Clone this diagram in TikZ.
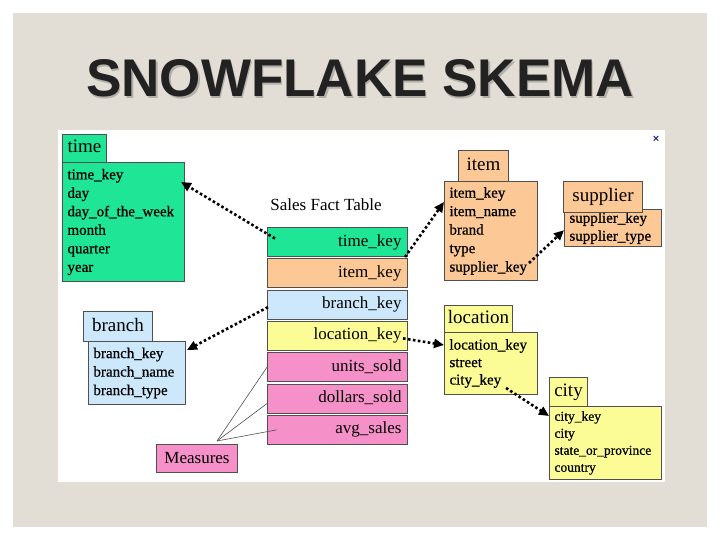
\documentclass[tikz,border=0pt]{standalone}
\usepackage{fontspec}
\setmainfont{Liberation Serif}
\newfontfamily\titlefont{Liberation Sans}
\newfontfamily\fieldfont{Liberation Serif}[FakeBold=0.7]
\usepackage{xcolor}
\usetikzlibrary{arrows.meta}

\definecolor{slidebg}{RGB}{226,221,213}
\definecolor{titleink}{RGB}{34,34,34}
\definecolor{titleshade}{RGB}{178,174,168}
\definecolor{tblline}{RGB}{80,80,80}
\definecolor{timegreen}{RGB}{30,230,150}
\definecolor{itempeach}{RGB}{252,200,150}
\definecolor{branchblue}{RGB}{204,232,250}
\definecolor{locyellow}{RGB}{252,252,150}
\definecolor{measpink}{RGB}{245,145,200}
\definecolor{closeblue}{RGB}{30,40,140}

\begin{document}
\begin{tikzpicture}[x=1pt,y=-1pt,
  tblhead/.style={draw=tblline,line width=1pt,anchor=north west,inner sep=0pt,
    font=\fontsize{19}{22}\selectfont,text height=13pt,text depth=4pt},
  tblbody/.style={draw=tblline,line width=1pt,anchor=north west,inner xsep=5pt,
    inner ysep=0pt,align=left,font=\fieldfont\fontsize{15}{18.5}\selectfont},
  factrow/.style={draw=tblline,line width=1pt,anchor=north west,minimum height=29pt,
    text width=128pt,align=right,inner xsep=6pt,inner ysep=0pt,
    font=\fontsize{17}{20}\selectfont,text height=12pt,text depth=4pt},
  fkarrow/.style={line width=2.6pt,dash pattern=on 2.6pt off 2.4pt,
    -{Triangle[length=10pt,width=9pt]}},
  measline/.style={draw=tblline,line width=0.6pt}]
\useasboundingbox (0,0) rectangle (720,540);
\fill[white] (0,0) rectangle (720,540);
\fill[slidebg] (13,13) rectangle (707,527);
\fill[white] (58,130) rectangle (665,482);

% title
\node[font=\titlefont\bfseries\fontsize{53}{60}\selectfont,text=titleshade,anchor=base] at (361.5,98.5) {SNOWFLAKE SKEMA};
\node[font=\titlefont\bfseries\fontsize{53}{60}\selectfont,text=titleink,anchor=base] (title) at (360,97) {SNOWFLAKE SKEMA};
\node[font=\titlefont\bfseries\fontsize{11}{11}\selectfont,text=closeblue] (closex) at (656,139) {×};

% dimension tables
\node[tblhead,fill=timegreen,minimum width=44pt,minimum height=28pt] (timehead) at (62,134) {time};
\node[tblbody,fill=timegreen,text width=112pt,minimum height=119pt] (timebody) at (62,162)
  {time\_key\\day\\day\_of\_the\_week\\month\\quarter\\year};

\node[tblhead,fill=itempeach,minimum width=50pt,minimum height=31pt] (itemhead) at (458,150) {item};
\node[tblbody,fill=itempeach,text width=83pt,minimum height=99pt] (itembody) at (444,181)
  {item\_key\\item\_name\\brand\\type\\supplier\_key};

\node[tblbody,fill=itempeach,text width=87pt,inner ysep=2.5pt,anchor=south west,
  font=\fieldfont\fontsize{15}{18}\selectfont] (supbody) at (564,247)
  {supplier\_key\\supplier\_type};
\node[tblhead,fill=itempeach,minimum width=79pt,minimum height=31pt] (suphead) at (563,181) {supplier};

\node[tblhead,fill=branchblue,minimum width=69pt,minimum height=30pt] (branchhead) at (83,311) {branch};
\node[tblbody,fill=branchblue,text width=87pt,minimum height=63pt] (branchbody) at (88,341)
  {branch\_key\\branch\_name\\branch\_type};

\node[tblhead,fill=locyellow,minimum width=68pt,minimum height=27pt] (lochead) at (444,305) {location};
\node[tblbody,fill=locyellow,text width=83pt,minimum height=62pt,
  font=\fieldfont\fontsize{15}{17.5}\selectfont] (locbody) at (444,332)
  {location\_key\\street\\city\_key};

\node[tblhead,fill=locyellow,minimum width=38pt,minimum height=29pt] (cityhead) at (549,377) {city};
\node[tblbody,fill=locyellow,text width=102pt,minimum height=73pt,
  font=\fieldfont\fontsize{13.5}{17}\selectfont] (citybody) at (549,406)
  {city\_key\\city\\state\_or\_province\\country};

% fact table
\node[font=\fontsize{17}{20}\selectfont,anchor=base] (facttitle) at (326,211) {Sales Fact Table};
\foreach \rowname/\rowlbl/\rowcol [count=\i from 0] in
  {facttime/time\_key/timegreen, factitem/item\_key/itempeach,
   factbranch/branch\_key/branchblue, factloc/location\_key/locyellow,
   factunits/units\_sold/measpink, factdollars/dollars\_sold/measpink,
   factavg/avg\_sales/measpink}
  \node[factrow,fill=\rowcol] (\rowname) at (267,{227+31.3*\i}) {\rowlbl};

\node[draw=tblline,line width=1pt,fill=measpink,anchor=north west,minimum width=81pt,
  minimum height=28pt,inner sep=0pt,font=\fontsize{17}{20}\selectfont] (measures) at (156,444) {Measures};

% measures pointers
\draw[measline] ([xshift=20pt,yshift=3pt]measures.north) -- (factunits.west);
\draw[measline] ([xshift=20pt,yshift=3pt]measures.north) -- ([yshift=-5pt]factdollars.west);
\draw[measline] ([xshift=20pt,yshift=3pt]measures.north) -- ([xshift=10pt]factavg.west);

% foreign keys
\draw[fkarrow] ([xshift=8pt,yshift=3.5pt]facttime.west) -- ([xshift=-4pt,yshift=-20pt]timebody.north east);
\draw[fkarrow] ([xshift=-3pt]facttime.south east) -- ([yshift=-21pt]itembody.north west);
\draw[fkarrow] ([xshift=-9pt,yshift=18pt]itembody.south east) -- ([yshift=-2pt]supbody.west);
\draw[fkarrow] ([xshift=1pt,yshift=-2.5pt]factbranch.west) -- ([xshift=1pt,yshift=-9pt]branchbody.north east);
\draw[fkarrow] ([xshift=-5pt,yshift=-2.5pt]factloc.east) -- ([yshift=-13pt]locbody.north west);
\draw[fkarrow] ([xshift=-32pt,yshift=7pt]locbody.south east) -- ([yshift=-10pt]citybody.north west);
\end{tikzpicture}
\end{document}
